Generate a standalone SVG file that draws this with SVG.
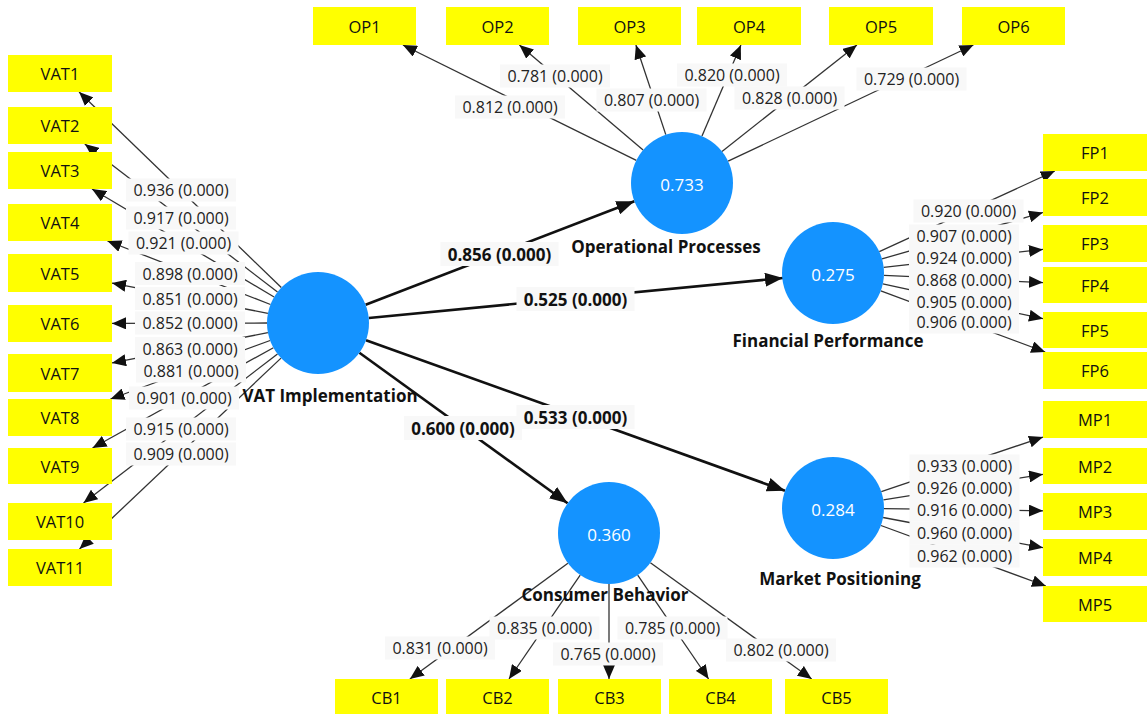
<svg xmlns="http://www.w3.org/2000/svg" width="1148" height="714" viewBox="0 0 1148 714">
<defs>
<style>
text{font-family:"Open Sans","Noto Sans","Liberation Sans",sans-serif;text-anchor:middle;dominant-baseline:central}
.box{fill:#ffff00}
.bt{font-size:16.5px;fill:#111111}
.lv{fill:#1493ff}
.lvt{font-size:17px;fill:#ffffff}
.name{font-size:17px;font-weight:bold;fill:#111111}
.ld{stroke:#333333;stroke-width:1.3;fill:none;marker-end:url(#a1)}
.st{stroke:#111111;stroke-width:2.6;fill:none;marker-end:url(#a2)}
.lbg{fill:#f8f8f8}
.lt{font-size:16px;fill:#222222}
.pt{font-size:17px;font-weight:bold;fill:#111111}
</style>
<marker id="a1" viewBox="0 0 14 12" refX="14" refY="6" markerWidth="14" markerHeight="12" orient="auto" markerUnits="userSpaceOnUse"><path d="M0,0 L14,6 L0,12 z" fill="#111111"/></marker>
<marker id="a2" viewBox="0 0 18 14" refX="18" refY="7" markerWidth="18" markerHeight="14" orient="auto" markerUnits="userSpaceOnUse"><path d="M0,0 L18,7 L0,14 z" fill="#111111"/></marker>
</defs>
<rect width="1148" height="714" fill="#ffffff"/>

<g id="connectors">
<line class="st" x1="365.6" y1="304.7" x2="634.4" y2="201.3"/>
<line class="st" x1="368.8" y1="318" x2="783" y2="278"/>
<line class="st" x1="366" y1="340.2" x2="785" y2="490.8"/>
<line class="st" x1="359.4" y1="352.8" x2="567.6" y2="503.2"/>
<line class="ld" x1="281.3" y1="287.5" x2="79.1" y2="92"/>
<line class="ld" x1="277.5" y1="292" x2="84.8" y2="144"/>
<line class="ld" x1="274.1" y1="297" x2="92" y2="189"/>
<line class="ld" x1="270.5" y1="304.5" x2="107.5" y2="241"/>
<line class="ld" x1="267.9" y1="313.3" x2="112" y2="283.1"/>
<line class="ld" x1="267" y1="323" x2="112" y2="323.4"/>
<line class="ld" x1="267.9" y1="332.7" x2="112" y2="362.9"/>
<line class="ld" x1="270.1" y1="340.5" x2="110.5" y2="399"/>
<line class="ld" x1="273.4" y1="347.7" x2="92.5" y2="448"/>
<line class="ld" x1="277.5" y1="354" x2="83.5" y2="503"/>
<line class="ld" x1="281" y1="358.1" x2="79.5" y2="549"/>
<line class="ld" x1="636.3" y1="160.4" x2="402.9" y2="45"/>
<line class="ld" x1="643.1" y1="150" x2="519.4" y2="45"/>
<line class="ld" x1="665.8" y1="134.6" x2="635.9" y2="45"/>
<line class="ld" x1="702" y1="136.1" x2="740.9" y2="45"/>
<line class="ld" x1="722" y1="151.4" x2="856.9" y2="45"/>
<line class="ld" x1="728.1" y1="161.2" x2="973.4" y2="45"/>
<line class="ld" x1="879.3" y1="251.7" x2="1054.8" y2="171"/>
<line class="ld" x1="882" y1="258.9" x2="1043" y2="212.5"/>
<line class="ld" x1="883.7" y1="267.3" x2="1043" y2="249.4"/>
<line class="ld" x1="884" y1="275.3" x2="1043" y2="282.6"/>
<line class="ld" x1="882.8" y1="283.8" x2="1043" y2="318.7"/>
<line class="ld" x1="880.8" y1="290.8" x2="1045.2" y2="352"/>
<line class="ld" x1="881.3" y1="491.7" x2="1043" y2="437.1"/>
<line class="ld" x1="883.4" y1="499.9" x2="1043" y2="474.3"/>
<line class="ld" x1="884" y1="508.7" x2="1043" y2="510.8"/>
<line class="ld" x1="883.1" y1="517.5" x2="1043" y2="547.7"/>
<line class="ld" x1="880.9" y1="525.5" x2="1045.9" y2="586"/>
<line class="ld" x1="567.9" y1="563.2" x2="409.9" y2="679"/>
<line class="ld" x1="580.2" y1="575.1" x2="509" y2="679"/>
<line class="ld" x1="609" y1="584" x2="609" y2="679"/>
<line class="ld" x1="637.7" y1="575.1" x2="708.6" y2="679"/>
<line class="ld" x1="650.4" y1="562.8" x2="811.7" y2="679"/>
</g>

<g id="connector-labels">
<rect class="lbg" x="440.5" y="242" width="118" height="24"/><text class="pt" x="499.5" y="254">0.856 (0.000)</text>
<rect class="lbg" x="516.5" y="287" width="118" height="24"/><text class="pt" x="575.5" y="299">0.525 (0.000)</text>
<rect class="lbg" x="516.5" y="405" width="118" height="24"/><text class="pt" x="575.5" y="417">0.533 (0.000)</text>
<rect class="lbg" x="404" y="416" width="118" height="24"/><text class="pt" x="463" y="428">0.600 (0.000)</text>

<rect class="lbg" x="126" y="178.5" width="110" height="23"/><text class="lt" x="181" y="190">0.936 (0.000)</text>
<rect class="lbg" x="126" y="206.5" width="110" height="23"/><text class="lt" x="181" y="218">0.917 (0.000)</text>
<rect class="lbg" x="128.5" y="231.5" width="110" height="23"/><text class="lt" x="183.5" y="243">0.921 (0.000)</text>
<rect class="lbg" x="135" y="262" width="110" height="23"/><text class="lt" x="190" y="273.5">0.898 (0.000)</text>
<rect class="lbg" x="135" y="287" width="110" height="23"/><text class="lt" x="190" y="298.5">0.851 (0.000)</text>
<rect class="lbg" x="135" y="311.5" width="110" height="23"/><text class="lt" x="190" y="323">0.852 (0.000)</text>
<rect class="lbg" x="135" y="337" width="110" height="23"/><text class="lt" x="190" y="348.5">0.863 (0.000)</text>
<rect class="lbg" x="136" y="359.5" width="110" height="23"/><text class="lt" x="191" y="371">0.881 (0.000)</text>
<rect class="lbg" x="129" y="386.5" width="110" height="23"/><text class="lt" x="184" y="398">0.901 (0.000)</text>
<rect class="lbg" x="126" y="417.5" width="110" height="23"/><text class="lt" x="181" y="429">0.915 (0.000)</text>
<rect class="lbg" x="126" y="442.5" width="110" height="23"/><text class="lt" x="181" y="454">0.909 (0.000)</text>

<rect class="lbg" x="455" y="95.5" width="110" height="23"/><text class="lt" x="510" y="107">0.812 (0.000)</text>
<rect class="lbg" x="500" y="64.5" width="110" height="23"/><text class="lt" x="555" y="76">0.781 (0.000)</text>
<rect class="lbg" x="596.5" y="88.5" width="110" height="23"/><text class="lt" x="651.5" y="100">0.807 (0.000)</text>
<rect class="lbg" x="677" y="63.5" width="110" height="23"/><text class="lt" x="732" y="75">0.820 (0.000)</text>
<rect class="lbg" x="734.5" y="86.5" width="110" height="23"/><text class="lt" x="789.5" y="98">0.828 (0.000)</text>
<rect class="lbg" x="856.5" y="67.5" width="110" height="23"/><text class="lt" x="911.5" y="79">0.729 (0.000)</text>

<rect class="lbg" x="913.5" y="199.5" width="110" height="23"/><text class="lt" x="968.5" y="211">0.920 (0.000)</text>
<rect class="lbg" x="909" y="224.5" width="110" height="23"/><text class="lt" x="964" y="236">0.907 (0.000)</text>
<rect class="lbg" x="909" y="246" width="110" height="23"/><text class="lt" x="964" y="257.5">0.924 (0.000)</text>
<rect class="lbg" x="909" y="268.5" width="110" height="23"/><text class="lt" x="964" y="280">0.868 (0.000)</text>
<rect class="lbg" x="909" y="290" width="110" height="23"/><text class="lt" x="964" y="301.5">0.905 (0.000)</text>
<rect class="lbg" x="909" y="310.5" width="110" height="23"/><text class="lt" x="964" y="322">0.906 (0.000)</text>

<rect class="lbg" x="909.5" y="454.5" width="110" height="23"/><text class="lt" x="964.5" y="466">0.933 (0.000)</text>
<rect class="lbg" x="909.5" y="476" width="110" height="23"/><text class="lt" x="964.5" y="487.5">0.926 (0.000)</text>
<rect class="lbg" x="909.5" y="498.5" width="110" height="23"/><text class="lt" x="964.5" y="510">0.916 (0.000)</text>
<rect class="lbg" x="909.5" y="521.5" width="110" height="23"/><text class="lt" x="964.5" y="533">0.960 (0.000)</text>
<rect class="lbg" x="909.5" y="544.5" width="110" height="23"/><text class="lt" x="964.5" y="556">0.962 (0.000)</text>

<rect class="lbg" x="385" y="636.5" width="110" height="23"/><text class="lt" x="440" y="648">0.831 (0.000)</text>
<rect class="lbg" x="489.5" y="616.5" width="110" height="23"/><text class="lt" x="544.5" y="628">0.835 (0.000)</text>
<rect class="lbg" x="553" y="642.5" width="110" height="23"/><text class="lt" x="608" y="654">0.765 (0.000)</text>
<rect class="lbg" x="617.5" y="616.5" width="110" height="23"/><text class="lt" x="672.5" y="628">0.785 (0.000)</text>
<rect class="lbg" x="726" y="638.5" width="110" height="23"/><text class="lt" x="781" y="650">0.802 (0.000)</text>
</g>

<g id="VAT_Implementation"><circle class="lv" cx="318" cy="323" r="51"/><text class="name" x="330" y="395">VAT Implementation</text></g>
<g id="Operational_Processes"><circle class="lv" cx="682" cy="183" r="51"/><text class="lvt" x="682" y="184">0.733</text><text class="name" x="666" y="246">Operational Processes</text></g>
<g id="Financial_Performance"><circle class="lv" cx="833" cy="273" r="51"/><text class="lvt" x="833" y="274">0.275</text><text class="name" x="828" y="340">Financial Performance</text></g>
<g id="Market_Positioning"><circle class="lv" cx="833" cy="508" r="51"/><text class="lvt" x="833" y="509">0.284</text><text class="name" x="840" y="578">Market Positioning</text></g>
<g id="Consumer_Behavior"><circle class="lv" cx="609" cy="533" r="51"/><text class="lvt" x="609" y="534">0.360</text><text class="name" x="605" y="594">Consumer Behavior</text></g>

<g id="VAT1"><rect class="box" x="8" y="55" width="104" height="37"/><text class="bt" x="60" y="73.5">VAT1</text></g>
<g id="VAT2"><rect class="box" x="8" y="107" width="104" height="37"/><text class="bt" x="60" y="125.5">VAT2</text></g>
<g id="VAT3"><rect class="box" x="8" y="152" width="104" height="37"/><text class="bt" x="60" y="170.5">VAT3</text></g>
<g id="VAT4"><rect class="box" x="8" y="204" width="104" height="37"/><text class="bt" x="60" y="222.5">VAT4</text></g>
<g id="VAT5"><rect class="box" x="8" y="254" width="104" height="38"/><text class="bt" x="60" y="273">VAT5</text></g>
<g id="VAT6"><rect class="box" x="8" y="305" width="104" height="37"/><text class="bt" x="60" y="323.5">VAT6</text></g>
<g id="VAT7"><rect class="box" x="8" y="354" width="104" height="38"/><text class="bt" x="60" y="373">VAT7</text></g>
<g id="VAT8"><rect class="box" x="8" y="399" width="104" height="37"/><text class="bt" x="60" y="417.5">VAT8</text></g>
<g id="VAT9"><rect class="box" x="8" y="448" width="104" height="36"/><text class="bt" x="60" y="466">VAT9</text></g>
<g id="VAT10"><rect class="box" x="8" y="503" width="104" height="37"/><text class="bt" x="60" y="521.5">VAT10</text></g>
<g id="VAT11"><rect class="box" x="8" y="549" width="104" height="37"/><text class="bt" x="60" y="567.5">VAT11</text></g>

<g id="OP1"><rect class="box" x="313" y="7" width="103" height="38"/><text class="bt" x="364.5" y="26">OP1</text></g>
<g id="OP2"><rect class="box" x="446" y="7" width="103" height="38"/><text class="bt" x="497.5" y="26">OP2</text></g>
<g id="OP3"><rect class="box" x="578" y="7" width="103" height="38"/><text class="bt" x="629.5" y="26">OP3</text></g>
<g id="OP4"><rect class="box" x="697" y="7" width="104" height="38"/><text class="bt" x="749" y="26">OP4</text></g>
<g id="OP5"><rect class="box" x="829" y="7" width="104" height="38"/><text class="bt" x="881" y="26">OP5</text></g>
<g id="OP6"><rect class="box" x="962" y="7" width="103" height="38"/><text class="bt" x="1013.5" y="26">OP6</text></g>

<g id="FP1"><rect class="box" x="1043" y="134" width="104" height="37"/><text class="bt" x="1095" y="152.5">FP1</text></g>
<g id="FP2"><rect class="box" x="1043" y="179" width="104" height="37"/><text class="bt" x="1095" y="197.5">FP2</text></g>
<g id="FP3"><rect class="box" x="1043" y="225" width="104" height="37"/><text class="bt" x="1095" y="243.5">FP3</text></g>
<g id="FP4"><rect class="box" x="1043" y="267" width="104" height="36"/><text class="bt" x="1095" y="285">FP4</text></g>
<g id="FP5"><rect class="box" x="1043" y="312" width="104" height="36"/><text class="bt" x="1095" y="330">FP5</text></g>
<g id="FP6"><rect class="box" x="1043" y="352" width="104" height="37"/><text class="bt" x="1095" y="370.5">FP6</text></g>

<g id="MP1"><rect class="box" x="1043" y="401" width="104" height="37"/><text class="bt" x="1095" y="419.5">MP1</text></g>
<g id="MP2"><rect class="box" x="1043" y="448" width="104" height="36"/><text class="bt" x="1095" y="466">MP2</text></g>
<g id="MP3"><rect class="box" x="1043" y="493" width="104" height="37"/><text class="bt" x="1095" y="511.5">MP3</text></g>
<g id="MP4"><rect class="box" x="1043" y="539" width="104" height="37"/><text class="bt" x="1095" y="557.5">MP4</text></g>
<g id="MP5"><rect class="box" x="1043" y="586" width="104" height="36"/><text class="bt" x="1095" y="604">MP5</text></g>

<g id="CB1"><rect class="box" x="335" y="679" width="103" height="36"/><text class="bt" x="386.5" y="697">CB1</text></g>
<g id="CB2"><rect class="box" x="446" y="679" width="103" height="36"/><text class="bt" x="497.5" y="697">CB2</text></g>
<g id="CB3"><rect class="box" x="558" y="679" width="103" height="36"/><text class="bt" x="609.5" y="697">CB3</text></g>
<g id="CB4"><rect class="box" x="669" y="679" width="103" height="36"/><text class="bt" x="720.5" y="697">CB4</text></g>
<g id="CB5"><rect class="box" x="785" y="679" width="103" height="36"/><text class="bt" x="836.5" y="697">CB5</text></g>
</svg>
